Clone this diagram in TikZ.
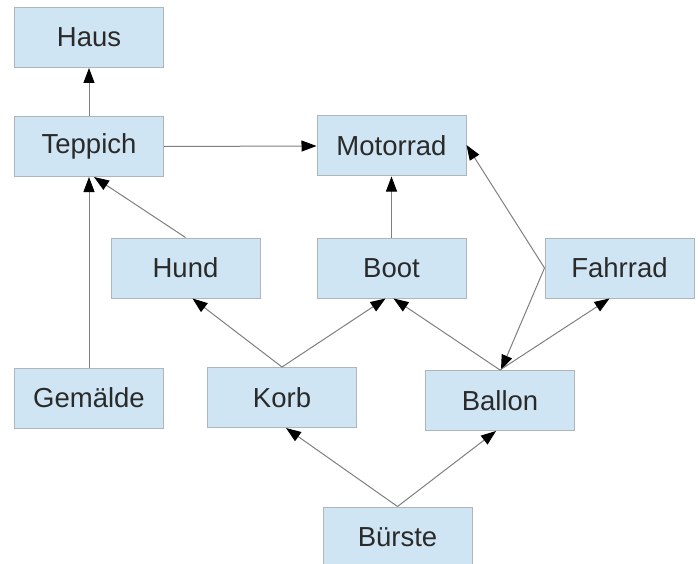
\documentclass[tikz,border=0pt]{standalone}
\usepackage{fontspec}
\setmainfont{Liberation Sans}
\usetikzlibrary{arrows.meta}
\definecolor{boxfill}{HTML}{CFE5F3}
\definecolor{boxline}{HTML}{AEB6BC}
\definecolor{edgeline}{HTML}{7F7F7F}
\definecolor{labeltext}{HTML}{2A2A2A}
\begin{document}
\begin{tikzpicture}[x=1pt,y=-1pt,
  item/.style={draw=boxline, line width=1pt, fill=boxfill, rectangle,
    minimum width=149pt, minimum height=60pt, inner sep=0pt,
    text=labeltext, font=\fontsize{27.5}{30}\selectfont},
  link/.style={draw=edgeline, line width=1pt,
    -{Triangle[length=15pt,width=11pt,fill=black,color=black]}}]
\useasboundingbox (0,0) rectangle (698,564);
% boxes
\node[item] (haus)     at (89,37.5)   {Haus};
\node[item] (teppich)  at (89,146.5)  {Teppich};
\node[item] (motorrad) at (391.5,146) {Motorrad};
\node[item] (hund)     at (185.5,268) {Hund};
\node[item] (boot)     at (391.5,268) {Boot};
\node[item] (fahrrad)  at (619.5,268) {Fahrrad};
\node[item] (gemaelde) at (89,398)    {Gemälde};
\node[item] (korb)     at (282,397.5) {Korb};
\node[item] (ballon)   at (500,400.5) {Ballon};
\node[item] (buerste)  at (397.5,537) {Bürste};
% connectors
\draw[link] (teppich.north) -- (haus.south);
\draw[link] (teppich.east) -- (motorrad.west);
\draw[link] (gemaelde.north) -- (teppich.south);
\draw[link] (hund.north) -- ([xshift=5pt]teppich.south);
\draw[link] (boot.north) -- (motorrad.south);
\draw[link] (fahrrad.west) -- ([yshift=1pt]motorrad.east);
\draw[link] (fahrrad.west) -- ([xshift=1pt]ballon.north);
\draw[link] (ballon.north) -- ([xshift=-10pt]fahrrad.south);
\draw[link] (ballon.north) -- ([xshift=2pt]boot.south);
\draw[link] (korb.north) -- ([xshift=7pt]hund.south);
\draw[link] (korb.north) -- ([xshift=-6pt]boot.south);
\draw[link] (buerste.north) -- ([xshift=4pt]korb.south);
\draw[link] (buerste.north) -- ([xshift=-4pt]ballon.south);
\end{tikzpicture}
\end{document}
